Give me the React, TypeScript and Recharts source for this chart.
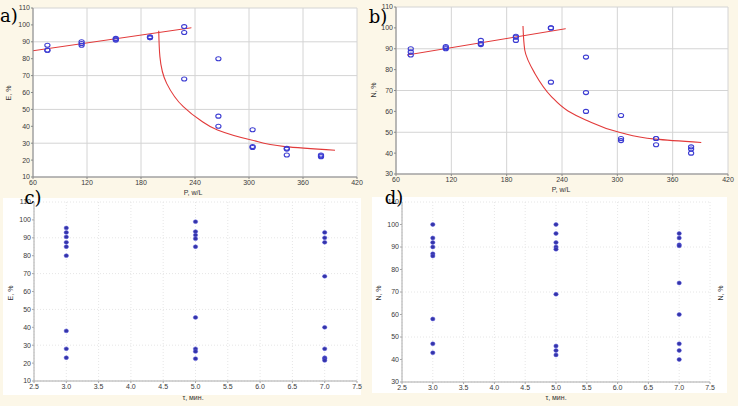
import React from "react";
import {
  ComposedChart,
  Scatter,
  Line,
  XAxis,
  YAxis,
  CartesianGrid,
} from "recharts";

// ---------- data ----------
const pValues = [76, 114, 152, 190, 228, 266, 304, 342, 380];
const eByP = [
  [88, 85, 85],
  [90, 89, 88],
  [92, 91.5, 91],
  [93, 92.5, 92.5],
  [99, 95.5, 68],
  [80, 46, 40],
  [38, 28, 27.5],
  [27, 26.5, 23],
  [23, 22.5, 22],
];
const nByP = [
  [90, 88.5, 87],
  [91, 90.5, 90],
  [94, 92.5, 92],
  [96, 95.5, 94],
  [100, 100, 74],
  [86, 69, 60],
  [58, 47, 46],
  [47, 47, 44],
  [43, 42, 40],
];
const tauValues = [3.0, 5.0, 7.0];
const eByTau = [
  [95.5, 93, 90.5, 87.5, 85, 80, 38, 28, 23],
  [99, 93.5, 91.5, 89.5, 85, 45.5, 28, 26.5, 22.5],
  [93, 90, 87.5, 68.5, 40, 28, 23, 22.5, 21.5],
];
const nByTau = [
  [100, 94, 92, 90, 87, 86, 58, 47, 43],
  [100, 96, 92, 90, 89, 69, 46, 44, 42],
  [96, 94, 91, 90.5, 74, 60, 47, 44, 40],
];
// fitted curves
const aLinePts = [
  [60, 84.7],
  [236, 98.3],
];
const aCurvePts = [
  [199.7, 96.6],
  [201, 81.2],
  [208.5, 65.4],
  [227, 51.6],
  [245.6, 43.7],
  [265, 37.8],
  [302.6, 31.9],
  [340, 28],
  [395.6, 25.8],
];
const bLinePts = [
  [72, 87],
  [244, 99.6],
];
const bCurvePts = [
  [197.7, 100.9],
  [199.6, 89.4],
  [210.4, 78.3],
  [228.5, 67.1],
  [246.5, 60.2],
  [265.7, 55.9],
  [303, 49.9],
  [341.3, 46.7],
  [391, 45.1],
];
const pTicks = [60, 120, 180, 240, 300, 360, 420];
const eTicks = [10, 20, 30, 40, 50, 60, 70, 80, 90, 100, 110];
const nTicks = [30, 40, 50, 60, 70, 80, 90, 100, 110];
const tauTicks = [2.5, 3.0, 3.5, 4.0, 4.5, 5.0, 5.5, 6.0, 6.5, 7.0, 7.5];

// ---------- helpers ----------
const flatten = (xs: number[], groups: number[][]) =>
  xs.flatMap((x, i) => groups[i].map((y) => ({ x, y })));
const toPts = (arr: number[][]) => arr.map(([x, y]) => ({ x, y }));

const BG = "#fcf7e8";
const BLUE = "#3c3cd2";
const DOT = "#3434a8";
const RED = "#e23a3a";
const tickStyle = { fontSize: 7, fill: "#3a3a3a", fontFamily: "Liberation Sans, Arial, sans-serif" };

const OpenCircle = (props: any) => {
  const { cx, cy } = props;
  if (cx == null || cy == null) return null;
  return <ellipse cx={cx} cy={cy} rx={2.6} ry={2} fill="none" stroke={BLUE} strokeWidth={1.1} />;
};
const FilledDot = (props: any) => {
  const { cx, cy } = props;
  if (cx == null || cy == null) return null;
  return <ellipse cx={cx} cy={cy} rx={2.2} ry={1.9} fill={DOT} stroke="#5a5ae0" strokeWidth={0.5} />;
};

const Txt = ({ x, y, text, size = 7, rotate = false, serif = false }: any) => (
  <div
    style={{
      position: "absolute",
      left: x,
      top: y,
      fontSize: size,
      fontFamily: serif ? "DejaVu Serif, Liberation Serif, serif" : "Liberation Sans, Arial, sans-serif",
      color: serif ? "#000" : "#333",
      whiteSpace: "nowrap",
      transform: rotate ? "translate(-50%, -50%) rotate(-90deg)" : "translate(-50%, -50%)",
      lineHeight: 1,
    }}
  >
    {text}
  </div>
);

const fmt1 = (v: number) => v.toFixed(1);

export default function App() {
  const aScatter = flatten(pValues, eByP);
  const bScatter = flatten(pValues, nByP);
  const cScatter = flatten(tauValues, eByTau);
  const dScatter = flatten(tauValues, nByTau);

  return (
    <div
      style={{
        position: "absolute",
        left: 0,
        top: 0,
        width: 738,
        height: 406,
        background: BG,
        overflow: "hidden",
      }}
    >
      {/* white backgrounds of lower panels */}
      <div style={{ position: "absolute", left: 3, top: 198, width: 358, height: 197, background: "#ffffff" }} />
      <div style={{ position: "absolute", left: 372, top: 197, width: 355, height: 196, background: "#ffffff" }} />

      {/* Panel a */}
      <div style={{ position: "absolute", left: 0, top: 0 }}>
        <ComposedChart width={368} height={200} margin={{ top: 8, right: 11, bottom: 8, left: 0 }}>
          <CartesianGrid stroke="#d4d4d4" fill="#ffffff" />
          <XAxis
            type="number"
            dataKey="x"
            domain={[60, 420]}
            ticks={pTicks}
            height={15}
            tick={tickStyle}
            tickSize={2}
            tickMargin={1}
            stroke="#888"
            allowDataOverflow
          />
          <YAxis
            type="number"
            dataKey="y"
            domain={[10, 110]}
            ticks={eTicks}
            width={33}
            tick={tickStyle}
            tickSize={2}
            tickMargin={1}
            stroke="#888"
            allowDataOverflow
          />
          <Line data={toPts(aLinePts)} dataKey="y" type="linear" stroke={RED} strokeWidth={1} dot={false} isAnimationActive={false} />
          <Line data={toPts(aCurvePts)} dataKey="y" type="monotoneY" stroke={RED} strokeWidth={1.1} dot={false} isAnimationActive={false} />
          <Scatter data={aScatter} shape={OpenCircle} isAnimationActive={false} />
        </ComposedChart>
      </div>

      {/* Panel b */}
      <div style={{ position: "absolute", left: 368, top: 0 }}>
        <ComposedChart width={370} height={200} margin={{ top: 7, right: 10, bottom: 11, left: 0 }}>
          <CartesianGrid stroke="#d4d4d4" fill="#ffffff" />
          <XAxis
            type="number"
            dataKey="x"
            domain={[60, 420]}
            ticks={pTicks}
            height={15}
            tick={tickStyle}
            tickSize={2}
            tickMargin={1}
            stroke="#888"
            allowDataOverflow
          />
          <YAxis
            type="number"
            dataKey="y"
            domain={[30, 110]}
            ticks={nTicks}
            width={28}
            tick={tickStyle}
            tickSize={2}
            tickMargin={1}
            stroke="#888"
            allowDataOverflow
          />
          <Line data={toPts(bLinePts)} dataKey="y" type="linear" stroke={RED} strokeWidth={1} dot={false} isAnimationActive={false} />
          <Line data={toPts(bCurvePts)} dataKey="y" type="monotoneY" stroke={RED} strokeWidth={1.1} dot={false} isAnimationActive={false} />
          <Scatter data={bScatter} shape={OpenCircle} isAnimationActive={false} />
        </ComposedChart>
      </div>

      {/* Panel c */}
      <div style={{ position: "absolute", left: 0, top: 195 }}>
        <ComposedChart width={368} height={211} margin={{ top: 7, right: 11, bottom: 10, left: 0 }}>
          <CartesianGrid stroke="#e6e6e6" strokeDasharray="1 2" fill="#ffffff" />
          <XAxis
            type="number"
            dataKey="x"
            domain={[2.5, 7.5]}
            ticks={tauTicks}
            tickFormatter={fmt1}
            height={15}
            tick={tickStyle}
            tickSize={2}
            tickMargin={1}
            stroke="#aaa"
            allowDataOverflow
          />
          <YAxis
            type="number"
            dataKey="y"
            domain={[10, 110]}
            ticks={eTicks}
            width={34}
            tick={tickStyle}
            tickSize={2}
            tickMargin={1}
            stroke="#aaa"
            allowDataOverflow
          />
          <Scatter data={cScatter} shape={FilledDot} isAnimationActive={false} />
        </ComposedChart>
      </div>

      {/* Panel d */}
      <div style={{ position: "absolute", left: 368, top: 195 }}>
        <ComposedChart width={370} height={211} margin={{ top: 7, right: 28, bottom: 9, left: 0 }}>
          <CartesianGrid stroke="#e6e6e6" strokeDasharray="1 2" fill="#ffffff" />
          <XAxis
            type="number"
            dataKey="x"
            domain={[2.5, 7.5]}
            ticks={tauTicks}
            tickFormatter={fmt1}
            height={15}
            tick={tickStyle}
            tickSize={2}
            tickMargin={1}
            stroke="#aaa"
            allowDataOverflow
          />
          <YAxis
            type="number"
            dataKey="y"
            domain={[30, 110]}
            ticks={nTicks}
            width={34}
            tick={tickStyle}
            tickSize={2}
            tickMargin={1}
            stroke="#aaa"
            allowDataOverflow
          />
          <Scatter data={dScatter} shape={FilledDot} isAnimationActive={false} />
        </ComposedChart>
      </div>

      {/* axis titles */}
      <Txt x={8} y={93} text="E, %" rotate />
      <Txt x={193} y={192} text="P, w/L" />
      <Txt x={373} y={90} text="N, %" rotate />
      <Txt x={561} y={189} text="P, w/L" />
      <Txt x={10} y={293} text="E, %" rotate />
      <Txt x={193} y={397} text="τ, мин." />
      <Txt x={378} y={293} text="N, %" rotate />
      <Txt x={720} y={293} text="N, %" rotate />
      <Txt x={556} y={397} text="τ, мин." />

      {/* panel letters */}
      <Txt x={9} y={16} text="a)" size={18} serif />
      <Txt x={378} y={17} text="b)" size={18} serif />
      <Txt x={33} y={198} text="c)" size={18} serif />
      <Txt x={394} y={198} text="d)" size={18} serif />
    </div>
  );
}
